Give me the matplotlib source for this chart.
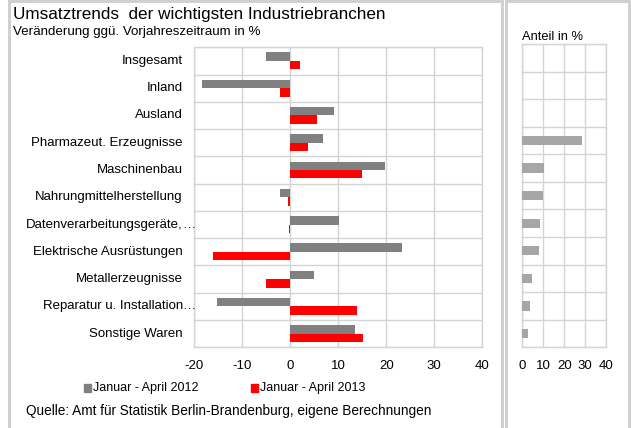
import matplotlib
matplotlib.use("Agg")
import matplotlib.pyplot as plt
import matplotlib.transforms as mtrans
import numpy as np
from matplotlib.patches import Rectangle

plt.rcParams['font.family'] = ['Liberation Sans', 'DejaVu Sans']

categories = ["Insgesamt", "Inland", "Ausland", "Pharmazeut. Erzeugnisse", "Maschinenbau",
              "Nahrungmittelherstellung", "Datenverarbeitungsgeräte,…", "Elektrische Ausrüstungen",
              "Metallerzeugnisse", "Reparatur u. Installation…", "Sonstige Waren"]
v2012 = [-5.1, -18.3, 9.1, 6.9, 19.8, -2.1, 10.1, 23.3, 4.9, -15.2, 13.5]
v2013 = [2.0, -2.1, 5.5, 3.7, 14.9, -0.5, -0.3, -16.1, -5.1, 13.9, 15.1]
anteil = [0, 0, 0, 28.3, 10.5, 9.7, 8.6, 8.1, 4.4, 3.5, 2.9]
x_ticks = [-20, -10, 0, 10, 20, 30, 40]
x_ticks_r = [0, 10, 20, 30, 40]
legend_labels = ["Januar - April 2012", "Januar - April 2013"]

GRAY = "#808080"
RED = "#FF0000"
LGRAY = "#A6A6A6"
GRID = "#D4D4D4"
BORDER = "#D0D0D0"

W, H = 631, 428
fig = plt.figure(figsize=(W / 100, H / 100), dpi=100)

def fx(px):
    return px / W

def fy(py):
    return 1 - py / H

# panel borders (3 px wide, no bottom edge visible)
bw = 3 * 72 / 100
for (x0, x1) in [(8.5, 502.5), (505.5, 628.5)]:
    fig.patches.append(Rectangle((fx(x0), fy(440)), fx(x1 - x0), (440 - 1.5) / H,
                                 transform=fig.transFigure, fill=False,
                                 edgecolor=BORDER, linewidth=bw))

n = len(categories)
y = np.arange(n)
h = 0.31

ax = fig.add_axes([fx(194), fy(347.3), fx(482.3 - 194), (347.3 - 47.3) / H])
ax.barh(y - h / 2, v2012, height=h, color=GRAY, zorder=3)
ax.barh(y + h / 2, v2013, height=h, color=RED, zorder=3)
ax.set_xlim(-20, 40)
ax.set_ylim(n - 0.5, -0.5)
ax.set_xticks(x_ticks)
ax.set_xticklabels([str(t) for t in x_ticks], fontsize=9.5)
ax.set_yticks(np.arange(n + 1) - 0.5)
ax.set_yticklabels([])
ax.tick_params(length=0, pad=9)
ax.grid(True, color=GRID, linewidth=1.0, zorder=0)
for s in ax.spines.values():
    s.set_color(GRID)
    s.set_linewidth(1.0)

trans = mtrans.blended_transform_factory(fig.transFigure, ax.transData)
for i, lab in enumerate(categories):
    if lab.endswith("…"):
        ax.text(fx(183), i, lab[:-1], ha="right", va="center", fontsize=9.5, transform=trans)
        ax.text(fx(182.5), i, "…", ha="left", va="center", fontsize=9.5, transform=trans)
    else:
        ax.text(fx(183), i, lab, ha="right", va="center", fontsize=9.5, transform=trans)

# right panel
ax2 = fig.add_axes([fx(522.3), fy(347.3), fx(606.3 - 522.3), (347.3 - 44) / H])
ax2.barh(y, anteil, height=0.34, color=LGRAY, zorder=3)
ax2.set_xlim(0, 40)
ax2.set_ylim(n - 0.5, -0.5)
ax2.set_xticks(x_ticks_r)
ax2.set_xticklabels([str(t) for t in x_ticks_r], fontsize=9.5)
ax2.set_yticks(np.arange(n + 1) - 0.5)
ax2.set_yticklabels([])
ax2.tick_params(length=0, pad=9)
ax2.grid(True, color=GRID, linewidth=1.0, zorder=0)
for s in ax2.spines.values():
    s.set_color(GRID)
    s.set_linewidth(1.0)

# texts
fig.text(fx(13), fy(15), "Umsatztrends  der wichtigsten Industriebranchen", fontsize=12.3,
         ha="left", va="center")
fig.text(fx(13), fy(32), "Veränderung ggü. Vorjahreszeitraum in %", fontsize=9.6,
         ha="left", va="center")
fig.text(fx(522), fy(37), "Anteil in %", fontsize=9.3, ha="left", va="center")

# legend
for (x0, col, lab) in [(84, GRAY, legend_labels[0]), (251, RED, legend_labels[1])]:
    fig.patches.append(Rectangle((fx(x0), fy(392)), fx(7), 8 / H, transform=fig.transFigure,
                                 color=col))
    fig.text(fx(x0 + 9), fy(388.5), lab, fontsize=9.0, ha="left", va="center")

fig.text(fx(26), fy(411), "Quelle: Amt für Statistik Berlin-Brandenburg, eigene Berechnungen",
         fontsize=9.8, ha="left", va="center")

fig.savefig("out.png", dpi=100)
